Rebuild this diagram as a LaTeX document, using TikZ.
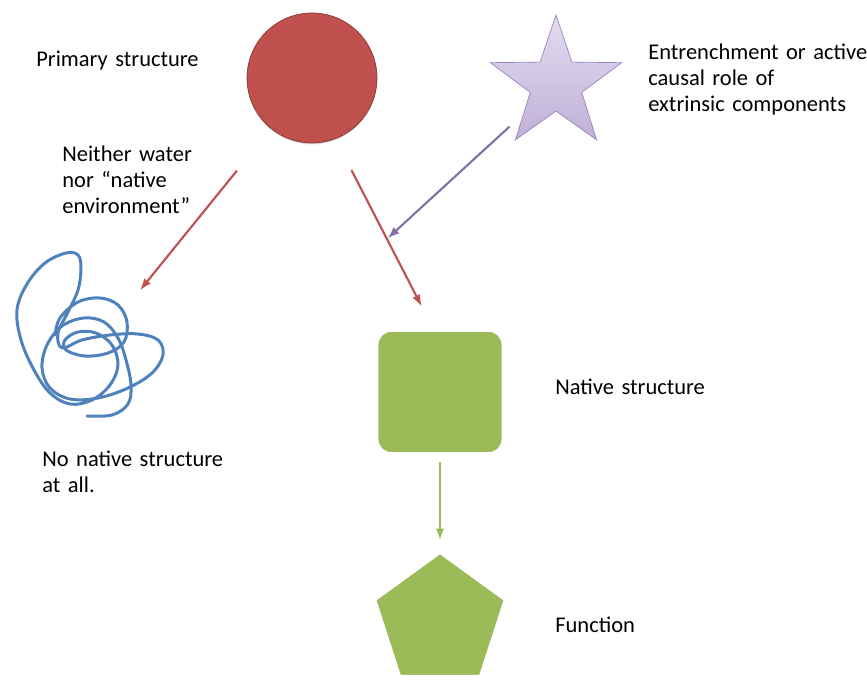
\documentclass[tikz,border=0pt]{standalone}
\usepackage{fontspec}
\setmainfont{Carlito}
\usepackage{tikz}
\usetikzlibrary{arrows,shapes,positioning,shadows}
\tikzset{
every node/.style={inner sep=0pt,font=\fontsize{12.8}{14.6}\selectfont},
style1/.style= {circle, minimum size=2.6cm, fill=Primary, draw=Primary!70!black, thin, drop shadow={opacity=0.25,shadow xshift=0pt,shadow yshift=-0.8pt}},
style2/.style= {star, star points=5, star point ratio=2.55, minimum size=2.76cm, top color=Star!28, bottom color=Star!62, draw=Star, thin},
style3/.style= {rectangle, rounded corners=0.28cm, minimum width=2.52cm, minimum height=2.46cm, fill=Tertiary, draw=white, line width=1.6pt, drop shadow={opacity=0.3,shadow xshift=0pt,shadow yshift=-0.6pt}},
style4/.style= {regular polygon, regular polygon sides=5, minimum size=2.74cm, fill=Tertiary, draw=white, line width=1.6pt, drop shadow={opacity=0.3,shadow xshift=0pt,shadow yshift=-0.6pt}},
style5/.style= {anchor=base west, text width=5cm, align=left},
arr1/.style= {draw=Primary, line width=1.2pt, -latex},
arr2/.style= {draw=Star!85!black, line width=1.2pt, -latex},
arr3/.style= {draw=Tertiary, line width=1.2pt, -latex}
}
\definecolor{Primary}{HTML}{C0504D}
\definecolor{Star}{HTML}{9A82C2}
\definecolor{Tertiary}{HTML}{9BBB59}
\definecolor{Coil}{HTML}{4F81BD}

\begin{document}
\begin{tikzpicture}[x=0.02cm, y=-0.02cm]
    \useasboundingbox (0,0) rectangle (867,682);

    \node[style1] (prim) at (312,78) {};
    \node[style2] (star) at (556,84) {};
    \node[style3] (nat) at (440,392) {};
    \node[style4] (func) at (440,621) {};

    \draw[Coil, line width=1.7pt, line cap=round, line join=round] plot[smooth, tension=0.6] coordinates {(87,416) (112,415) (128,404) (131,385) (126,360) (118,338) (104,322) (84,318) (62,326) (47,345) (42,368) (50,388) (70,399) (98,398) (128,388) (152,373) (163,355) (158,340) (138,334) (110,335) (82,340) (62,348) (58,333) (68,312) (78,290) (81,268) (78,255) (66,253) (45,263) (27,284) (17,310) (21,340) (34,370) (50,393) (70,404) (92,400) (110,385) (118,365) (112,345) (96,333) (78,332) (65,340) (66,350) (85,356) (108,353) (124,342) (127,322) (118,305) (100,298) (78,302) (60,318) (55,335)};
    \coordinate (coil) at (90,352);
    \coordinate (hit) at (388,238);

    \node[style5] (tprim) at (36,67) {Primary structure};
    \node[style5] (tneither) at (62,162) {Neither water\\nor “native\\environment”};
    \node[style5] (tentr) at (648,60) {Entrenchment or active\\causal role of\\extrinsic components};
    \node[style5] (tnone) at (42,467) {No native structure\\at all.};
    \node[style5] (tnat) at (555,395) {Native structure};
    \node[style5] (tfunc) at (555,633) {Function};

    \draw[arr1, shorten <=1.08cm, shorten >=1.6cm] (prim) -- (coil);
    \draw[arr1, shorten <=0.7cm, shorten >=0.52cm] (prim.-69) -- (nat.96);
    \draw[arr2, shorten <=1.26cm] (star.center) -- (hit);
    \draw[arr3, shorten <=0.15cm, shorten >=0.22cm] (nat) -- (func);
\end{tikzpicture}
\end{document}
